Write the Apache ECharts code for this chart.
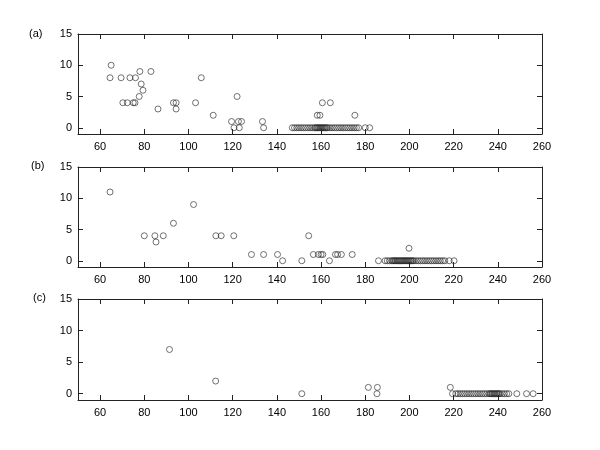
<!DOCTYPE html>
<html>
<head>
<meta charset="utf-8">
<script src="https://cdn.jsdelivr.net/npm/echarts@6/dist/echarts.min.js"></script>
<style>html,body{margin:0;padding:0;background:#fff}#c{width:600px;height:450px}</style>
</head>
<body>
<div id="c"></div>
<script>
// Panel (a)
const aX = [64.5, 65, 69.5, 70.3, 72.3, 73.5, 75, 75.8, 76, 78, 77.7, 78.6, 79.4, 83, 86.2, 93.2, 94.4, 94.4, 103.2, 105.8, 111.2, 119.5, 120.6, 122, 122.6, 123, 124, 133.5, 134, 160.6, 164.2, 158.3, 159.5, 175.3,
  147, 148, 149, 150, 151, 152, 153, 154, 155, 156, 157, 157.5, 158, 158.5, 159, 159.5, 160, 160.5, 161, 161.5, 162, 162.5, 163, 164, 165, 166, 167, 168, 169, 170, 171, 172, 173, 174, 175, 176, 177, 180, 182];
const aY = [8, 10, 8, 4, 4, 8, 4, 4, 8, 9, 5, 7, 6, 9, 3, 4, 4, 3, 4, 8, 2, 1, 0, 5, 1, 0, 1, 1, 0, 4, 4, 2, 2, 2,
  0, 0, 0, 0, 0, 0, 0, 0, 0, 0, 0, 0, 0, 0, 0, 0, 0, 0, 0, 0, 0, 0, 0, 0, 0, 0, 0, 0, 0, 0, 0, 0, 0, 0, 0, 0, 0, 0, 0];
// Panel (b)
const bX = [64.5, 80, 84.8, 85.3, 88.6, 93.2, 102.3, 112.4, 114.8, 120.5, 128.5, 134, 140.3, 142.6, 151.3, 154.4, 156.5, 158.8, 160, 160.8, 163.8, 166.5, 167.5, 169.2, 174.1, 199.8, 186,
  189, 190, 191, 192, 192.5, 193, 193.5, 194, 194.5, 195, 195.5, 196, 196.5, 197, 197.5, 198, 198.5, 199, 199.5, 200, 200.5, 201, 201.5, 202, 203, 204, 205, 206, 207, 208, 209, 210, 211, 212, 213, 214, 215, 216, 218, 220.2];
const bY = [11, 4, 4, 3, 4, 6, 9, 4, 4, 4, 1, 1, 1, 0, 0, 4, 1, 1, 1, 1, 0, 1, 1, 1, 1, 2, 0,
  0, 0, 0, 0, 0, 0, 0, 0, 0, 0, 0, 0, 0, 0, 0, 0, 0, 0, 0, 0, 0, 0, 0, 0, 0, 0, 0, 0, 0, 0, 0, 0, 0, 0, 0, 0, 0, 0, 0, 0];
// Panel (c)
const cX = [91.4, 112.3, 151.3, 181.4, 185.5, 185.3, 218.5, 219.5,
  221, 222, 223, 224, 225, 226, 227, 228, 229, 230, 231, 232, 233, 234, 235, 236, 236.5, 237, 237.5, 238, 238.5, 239, 239.5, 240, 240.5, 241, 242, 243, 244, 245, 248.6, 253, 256];
const cY = [7, 2, 0, 1, 1, 0, 1, 0,
  0, 0, 0, 0, 0, 0, 0, 0, 0, 0, 0, 0, 0, 0, 0, 0, 0, 0, 0, 0, 0, 0, 0, 0, 0, 0, 0, 0, 0, 0, 0, 0, 0];

const xTicks = [60, 80, 100, 120, 140, 160, 180, 200, 220, 240, 260];
const yTicks = [0, 5, 10, 15];
const panelLabels = ['(a)', '(b)', '(c)'];

const panels = [[aX, aY], [bX, bY], [cX, cY]];
const tops = [34, 167, 299];
const heights = [100, 100, 101];
const font = 'Liberation Sans, Arial, sans-serif';
const lineStyle = {color: '#222', width: 1};

const grid = [], xAxis = [], yAxis = [], series = [];
panels.forEach((p, i) => {
  grid.push({left: 78, width: 464, top: tops[i], height: heights[i]});
  const common = {
    gridIndex: i, type: 'value', splitLine: {show: false},
    axisLine: {show: true, onZero: false, lineStyle},
    axisTick: {show: true, inside: true, length: 5, lineStyle, customValues: xTicks}
  };
  xAxis.push(Object.assign({}, common, {
    position: 'bottom', min: 50, max: 260,
    axisLabel: {show: true, color: '#000', fontFamily: font, fontSize: 11, margin: 7, customValues: xTicks}
  }));
  xAxis.push(Object.assign({}, common, {
    position: 'top', min: 50, max: 260,
    axisLabel: {show: false}
  }));
  const ycommon = {
    gridIndex: i, type: 'value', min: -1, max: 15, splitLine: {show: false},
    axisLine: {show: true, onZero: false, lineStyle},
    axisTick: {show: true, inside: true, length: 5, lineStyle, customValues: yTicks}
  };
  yAxis.push(Object.assign({}, ycommon, {
    position: 'left',
    axisLabel: {show: true, color: '#000', fontFamily: font, fontSize: 11, margin: 6, customValues: yTicks}
  }));
  yAxis.push(Object.assign({}, ycommon, {position: 'right', axisLabel: {show: false}}));
  series.push({
    type: 'scatter', xAxisIndex: 2 * i, yAxisIndex: 2 * i,
    data: p[0].map((x, k) => [x, p[1][k]]),
    symbol: 'circle', symbolSize: 6,
    itemStyle: {color: 'rgba(0,0,0,0)', borderColor: '#222', borderWidth: 0.8},
    emphasis: {disabled: true}, silent: true
  });
});

const graphic = panelLabels.map((t, i) => ({
  type: 'text', left: [29, 31, 33][i], top: [28, 160, 292][i],
  style: {text: t, fill: '#000', font: '11px ' + font}
}));

const chart = echarts.init(document.getElementById('c'), null, {renderer: 'canvas'});
chart.setOption({animation: false, grid, xAxis, yAxis, series, graphic});
</script>
</body>
</html>
